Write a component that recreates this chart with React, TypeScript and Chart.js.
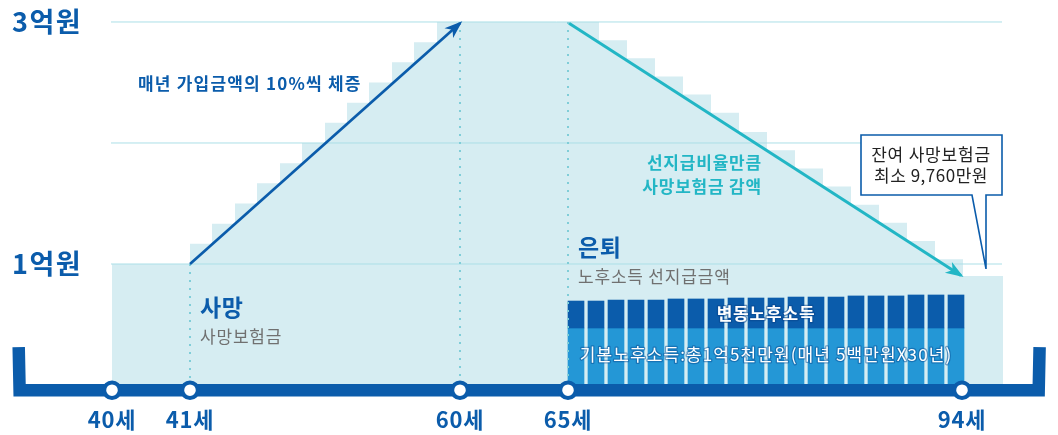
import React, { useEffect, useRef } from "react";
import { Chart, registerables } from "chart.js";

Chart.register(...registerables);

// x: position along the drawn timeline (0–1058 units), y: amount in 억원
const ageLabels = ["40세", "41세", "60세", "65세", "94세"];
const agePositions = [112, 190, 460, 568, 962];

// death-benefit staircase (left edge of each step, level in 억원)
const benefitX = [112, 190, 212, 235, 257, 280, 302, 325, 347, 369, 392, 414, 437,
  599, 627, 655, 683, 711, 739, 767, 795, 823, 851, 879, 907, 935, 963, 1003];
const benefitY = [1, 1.167, 1.333, 1.5, 1.667, 1.833, 2, 2.167, 2.333, 2.5, 2.667, 2.833, 3,
  2.85, 2.7, 2.55, 2.4, 2.25, 2.09, 1.94, 1.79, 1.64, 1.49, 1.34, 1.19, 1.04, 0.9, 0.9];

// retirement income bars (65세 ~ 94세)
const incomeX = [576, 596, 616, 636, 656, 676, 696, 716, 736, 756, 776, 796, 816, 836, 856, 876, 896, 916, 936, 956];
const baseIncome = [0.471, 0.471, 0.471, 0.471, 0.471, 0.471, 0.471, 0.471, 0.471, 0.471,
  0.471, 0.471, 0.471, 0.471, 0.471, 0.471, 0.471, 0.471, 0.471, 0.471];
const totalIncome = [0.694, 0.694, 0.702, 0.702, 0.702, 0.711, 0.711, 0.711, 0.719, 0.719,
  0.719, 0.727, 0.727, 0.727, 0.736, 0.736, 0.736, 0.744, 0.744, 0.744];

const gridLevels = [1, 2, 3];
const gridFrom = 111;
const gridTo = 1002;
const yLabels = ["3억원", "1억원"];
const yLabelLevels = [3, 1];

const DARK = "#0b5cab";
const AREA = "#d6edf2";
const GRID = "#abdfe7";
const DOT = "#80cdd8";
const BAR_LIGHT = "#2497d6";
const CYAN = "#22b6c5";
const GRAY = "#707070";
const FONT = '"Noto Sans CJK KR", "Noto Sans", sans-serif';

type Note = { text: string; x: number; y: number; size: number; bold?: boolean; color: string; align: CanvasTextAlign; spacing?: number; outline?: string };

const notes: Note[] = [
  { text: "매년 가입금액의 10%씩 체증", x: 138, y: 2.488, size: 17, bold: true, color: DARK, align: "left", spacing: 1.2 },
  { text: "선지급비율만큼", x: 762, y: 1.835, size: 17, bold: true, color: CYAN, align: "right", spacing: 0.8 },
  { text: "사망보험금 감액", x: 762, y: 1.636, size: 17, bold: true, color: CYAN, align: "right", spacing: 0.8 },
  { text: "사망", x: 200, y: 0.645, size: 23, bold: true, color: DARK, align: "left", spacing: 0.5 },
  { text: "사망보험금", x: 200, y: 0.397, size: 17, color: GRAY, align: "left", spacing: 0.8 },
  { text: "은퇴", x: 578, y: 1.14, size: 23, bold: true, color: DARK, align: "left", spacing: 0.5 },
  { text: "노후소득 선지급금액", x: 578, y: 0.893, size: 17, color: GRAY, align: "left", spacing: 0.8 },
  { text: "변동노후소득", x: 766, y: 0.587, size: 17, bold: true, color: "#ffffff", align: "center", spacing: 0.8, outline: "rgba(10,70,140,0.55)" },
  { text: "기본노후소득:총1억5천만원(매년 5백만원X30년)", x: 766, y: 0.248, size: 17, color: "#ffffff", align: "center", spacing: 1.1, outline: "rgba(10,80,150,0.5)" },
  { text: "잔여 사망보험금", x: 931, y: 1.901, size: 17, color: "#222222", align: "center", spacing: 0.8 },
  { text: "최소 9,760만원", x: 931, y: 1.727, size: 17, color: "#222222", align: "center", spacing: 0.5 },
];

const callout = { left: 861, right: 1002, top: 2.066, bottom: 1.57, notchLeft: 972, notchRight: 986, tipY: 0.959 };
const ageLabelY = -0.289;
const timelineY = -0.043;
const timelineEndTop = 0.314;

export default function App() {
  const ref = useRef<HTMLCanvasElement>(null);

  useEffect(() => {
    document.body.style.margin = "0";
    const canvas = ref.current;
    if (!canvas) return;

    const arrowIdx: number[] = [];
    const layers: any[] = [];

    layers.push({
      type: "line",
      data: benefitX.map((x, i) => ({ x, y: benefitY[i] })),
      stepped: "before",
      borderWidth: 0,
      borderColor: "rgba(0,0,0,0)",
      backgroundColor: AREA,
      fill: "origin",
      pointRadius: 0,
    });
    gridLevels.forEach((lv) =>
      layers.push({
        type: "line",
        data: [{ x: gridFrom, y: lv }, { x: gridTo, y: lv }],
        borderColor: GRID,
        borderWidth: 1,
        pointRadius: 0,
        fill: false,
      })
    );
    layers.push({
      type: "bar",
      data: incomeX.map((x, i) => ({ x, y: [0, baseIncome[i]] })),
      backgroundColor: BAR_LIGHT,
      barThickness: 16,
      grouped: false,
      borderWidth: 0,
    });
    layers.push({
      type: "bar",
      data: incomeX.map((x, i) => ({ x, y: [baseIncome[i], totalIncome[i]] })),
      backgroundColor: DARK,
      barThickness: 16,
      grouped: false,
      borderWidth: 0,
    });
    const dotted = [
      [agePositions[1], 1],
      [agePositions[2], 3],
      [agePositions[3], 3],
    ];
    dotted.forEach(([x, top]) =>
      layers.push({
        type: "line",
        data: [{ x, y: top }, { x, y: 0 }],
        borderColor: DOT,
        borderWidth: 2,
        borderDash: [2, 6],
        borderCapStyle: "butt",
        pointRadius: 0,
        fill: false,
      })
    );
    arrowIdx.push(layers.length);
    layers.push({
      type: "line",
      data: [{ x: agePositions[1], y: 1 }, { x: agePositions[2], y: 2.99 }],
      borderColor: DARK,
      borderWidth: 2.7,
      pointRadius: 0,
      fill: false,
    });
    arrowIdx.push(layers.length);
    layers.push({
      type: "line",
      data: [{ x: agePositions[3] + 1, y: 2.99 }, { x: 961, y: 0.905 }],
      borderColor: CYAN,
      borderWidth: 3,
      pointRadius: 0,
      fill: false,
    });
    layers.push({
      type: "line",
      data: [
        { x: 18.7, y: timelineEndTop },
        { x: 19.6, y: timelineY },
        { x: 1038.7, y: timelineY },
        { x: 1039.6, y: timelineEndTop },
      ],
      borderColor: DARK,
      borderWidth: 12.5,
      borderJoinStyle: "miter",
      borderCapStyle: "butt",
      pointRadius: 0,
      fill: false,
    });
    layers.push({
      type: "line",
      data: agePositions.map((x) => ({ x, y: timelineY })),
      showLine: false,
      pointRadius: 7.8,
      pointBorderWidth: 4,
      pointBackgroundColor: "#ffffff",
      pointBorderColor: DARK,
      fill: false,
    });

    const n = layers.length;
    layers.forEach((d, i) => (d.order = n - i));

    const overlay = {
      id: "overlay",
      afterDatasetsDraw(chart: any) {
        const ctx: CanvasRenderingContext2D = chart.ctx;
        const xs = chart.scales.x;
        const ys = chart.scales.y;
        const px = (v: number) => xs.getPixelForValue(v);
        const py = (v: number) => ys.getPixelForValue(v);
        ctx.save();

        // arrowheads
        arrowIdx.forEach((di) => {
          const meta = chart.getDatasetMeta(di);
          const pts = meta.data;
          const a = pts[pts.length - 2];
          const b = pts[pts.length - 1];
          const ang = Math.atan2(b.y - a.y, b.x - a.x);
          const color = chart.data.datasets[di].borderColor;
          ctx.save();
          ctx.translate(b.x, b.y);
          ctx.rotate(ang);
          ctx.fillStyle = color;
          ctx.beginPath();
          ctx.moveTo(3, 0);
          ctx.lineTo(-15, -6.5);
          ctx.lineTo(-10, 0);
          ctx.lineTo(-15, 6.5);
          ctx.closePath();
          ctx.fill();
          ctx.restore();
        });

        // callout box
        const l = px(callout.left), r = px(callout.right);
        const t = py(callout.top), bt = py(callout.bottom);
        const nl = px(callout.notchLeft), nr = px(callout.notchRight), tip = py(callout.tipY);
        ctx.beginPath();
        ctx.moveTo(l, t);
        ctx.lineTo(r, t);
        ctx.lineTo(r, bt);
        ctx.lineTo(nr, bt);
        ctx.lineTo(nr, tip);
        ctx.lineTo(nl, bt);
        ctx.lineTo(l, bt);
        ctx.closePath();
        ctx.fillStyle = "#ffffff";
        ctx.fill();
        ctx.strokeStyle = DARK;
        ctx.lineWidth = 1.6;
        ctx.lineJoin = "miter";
        ctx.stroke();

        ctx.textBaseline = "middle";
        // y labels
        ctx.fillStyle = DARK;
        ctx.textAlign = "left";
        ctx.font = `bold 27px ${FONT}`;
        (ctx as any).letterSpacing = "1.5px";
        yLabels.forEach((txt, i) => ctx.fillText(txt, 12, py(yLabelLevels[i])));

        notes.forEach((nt) => {
          ctx.font = `${nt.bold ? "bold " : ""}${nt.size}px ${FONT}`;
          ctx.textAlign = nt.align;
          (ctx as any).letterSpacing = nt.spacing ? `${nt.spacing}px` : "0px";
          if (nt.outline) {
            ctx.strokeStyle = nt.outline;
            ctx.lineWidth = 2.5;
            ctx.lineJoin = "round";
            ctx.strokeText(nt.text, px(nt.x), py(nt.y));
          }
          ctx.fillStyle = nt.color;
          ctx.fillText(nt.text, px(nt.x), py(nt.y));
        });

        // age labels
        ctx.font = `bold 22px ${FONT}`;
        (ctx as any).letterSpacing = "0.8px";
        ctx.fillStyle = DARK;
        ctx.textAlign = "center";
        ageLabels.forEach((txt, i) => ctx.fillText(txt, px(agePositions[i]), py(ageLabelY)));
        (ctx as any).letterSpacing = "0px";
        ctx.restore();
      },
    };

    const chart = new Chart(canvas, {
      type: "line",
      data: { datasets: layers },
      options: {
        animation: false,
        responsive: false,
        devicePixelRatio: 1,
        layout: { padding: 0, autoPadding: false },
        plugins: { legend: { display: false }, tooltip: { enabled: false } },
        events: [],
        scales: {
          x: { type: "linear", min: 0, max: 1058, display: false, offset: false },
          y: { type: "linear", min: -0.4132, max: 3.1818, display: false },
        },
      } as any,
      plugins: [overlay],
    });
    return () => chart.destroy();
  }, []);

  return (
    <div style={{ width: 1058, height: 435, background: "#ffffff" }}>
      <canvas ref={ref} width={1058} height={435} style={{ display: "block" }} />
    </div>
  );
}
